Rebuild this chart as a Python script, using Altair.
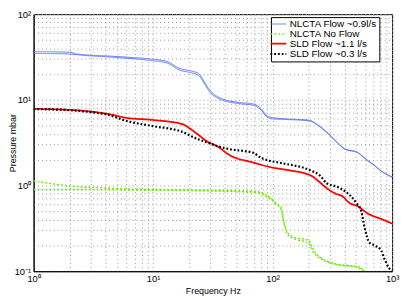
import altair as alt
import pandas as pd

series_names = ["NLCTA Flow ~0.9l/s", "NLCTA No Flow", "SLD Flow ~1.1 l/s", "SLD Flow ~0.3 l/s"]
series_colors = ["#6078ff", "#66ee00", "#ff0000", "#000000"]
series_dash = [[1, 0], [2, 2], [1, 0], [1.8, 2]]
series_widths = [1, 2.2, 3.4, 2]

# NLCTA Flow ~0.9 l/s : two nearly overlapping traces
blue_a_f = [1, 2, 2.3, 5, 9.6, 13, 17, 20, 24, 27, 30, 35, 40, 50, 70, 80, 90, 100, 130, 200, 240, 280, 340, 400, 520, 600, 700, 800, 1000]
blue_a_p = [36.5, 36.0, 34.3, 32.0, 29.9, 28.1, 23.0, 22.0, 20.3, 16.0, 12.8, 10.8, 10.0, 9.4, 8.9, 7.9, 6.5, 6.2, 6.0, 5.8, 5.1, 4.3, 3.3, 2.7, 2.42, 2.05, 1.75, 1.5, 1.26]
blue_b_f = [1, 2, 2.3, 5, 9.6, 13, 17, 20, 24, 27, 30, 35, 40, 50, 70, 80, 90, 100, 130, 200, 240, 280, 340, 400, 520, 600, 700, 800, 1000]
blue_b_p = [34.8, 34.3, 33.6, 31.2, 28.8, 27.0, 22.0, 21.0, 19.3, 15.2, 12.2, 10.4, 9.7, 9.1, 8.6, 7.6, 6.3, 6.0, 5.9, 5.7, 5.0, 4.2, 3.25, 2.67, 2.4, 2.03, 1.74, 1.49, 1.25]

# NLCTA No Flow : two dotted traces
green_a_f = [1, 1.75, 2.5, 3.3, 5, 10, 23, 50, 73, 88, 100, 107, 117, 125, 133, 156, 180, 201, 221, 259, 300, 355, 450, 519, 570, 590]
green_a_p = [1.13, 1.01, 0.96, 0.95, 0.92, 0.9, 0.89, 0.87, 0.85, 0.78, 0.68, 0.625, 0.57, 0.37, 0.284, 0.245, 0.238, 0.228, 0.175, 0.141, 0.128, 0.12, 0.116, 0.113, 0.104, 0.1]
green_b_f = [1, 2.5, 5, 10, 23, 50, 73, 88, 100, 107, 117, 125, 133, 156, 180, 201, 221, 259, 300, 355, 450, 519, 570, 590]
green_b_p = [0.9, 0.9, 0.89, 0.88, 0.87, 0.85, 0.83, 0.75, 0.66, 0.6, 0.54, 0.35, 0.27, 0.235, 0.225, 0.21, 0.165, 0.137, 0.125, 0.118, 0.114, 0.111, 0.102, 0.098]

# SLD Flow ~1.1 l/s
red_f = [1, 2.1, 3, 4.8, 5.8, 10.3, 17.6, 20, 23.4, 28, 34, 44, 68.5, 94, 140, 188, 215, 243, 284, 333, 389, 430, 519, 627, 800, 1000]
red_p = [7.85, 7.6, 7.3, 6.6, 6.2, 5.8, 5.2, 4.7, 4.0, 3.3, 2.9, 2.25, 1.86, 1.65, 1.5, 1.38, 1.28, 1.12, 0.93, 0.81, 0.74, 0.64, 0.57, 0.47, 0.41, 0.36]

# SLD Flow ~0.3 l/s
black_f = [1, 2.1, 3, 4.0, 6.2, 10.3, 17, 23.4, 28, 34, 44, 68.5, 80, 94, 121, 207, 250, 284, 344, 403, 500, 552, 589, 647, 711, 809, 861, 946, 1000]
black_p = [7.8, 7.55, 7.2, 6.8, 5.6, 4.9, 4.3, 3.5, 3.2, 2.9, 2.65, 2.42, 2.1, 1.95, 1.82, 1.5, 1.3, 1.06, 0.97, 0.86, 0.63, 0.5, 0.32, 0.215, 0.2, 0.175, 0.14, 0.108, 0.1]

x_ticks = [m * 10 ** e for e in range(0, 3) for m in range(1, 10)] + [1000]
y_ticks = [round(m * 10.0 ** e, 6) for e in range(-1, 2) for m in range(1, 10)] + [100]

traces = [
    (series_names[0], "blue_a", blue_a_f, blue_a_p),
    (series_names[0], "blue_b", blue_b_f, blue_b_p),
    (series_names[1], "green_a", green_a_f, green_a_p),
    (series_names[1], "green_b", green_b_f, green_b_p),
    (series_names[2], "red", red_f, red_p),
    (series_names[3], "black", black_f, black_p),
]
rows = []
for name, tid, fs, ps in traces:
    for f, p in zip(fs, ps):
        rows.append({"series": name, "trace": tid, "freq": f, "pressure": p})
df = pd.DataFrame(rows)

sup_expr_x = ("datum.value==1?'10\u2070':datum.value==10?'10\u00b9':"
              "datum.value==100?'10\u00b2':datum.value==1000?'10\u00b3':''")
sup_expr_y = ("datum.value==0.1?'10\u207b\u00b9':datum.value==1?'10\u2070':"
              "datum.value==10?'10\u00b9':datum.value==100?'10\u00b2':''")

leg = alt.Legend(
    title=None, orient="none", legendX=241, legendY=3,
    fillColor="white", strokeColor="black", padding=2,
    labelFontSize=10, labelFont="Liberation Sans", labelColor="black",
    symbolType="M-2,0L2,0", symbolSize=64, rowPadding=-1, labelOffset=6,
    labelLimit=200,
)

chart = alt.Chart(df).mark_line(clip=True, interpolate="monotone").encode(
    x=alt.X("freq:Q", scale=alt.Scale(type="log", domain=[1, 1000], nice=False),
            axis=alt.Axis(values=x_ticks, labelExpr=sup_expr_x, title="Frequency Hz",
                          labelFlush=False, labelOverlap=False, ticks=False,
                          labelPadding=2, titleY=16, titleBaseline="top")),
    y=alt.Y("pressure:Q", scale=alt.Scale(type="log", domain=[0.1, 100], nice=False),
            axis=alt.Axis(values=y_ticks, labelExpr=sup_expr_y, title="Pressure mbar",
                          labelFlush=False, labelOverlap=False, ticks=False,
                          labelPadding=3, titleX=-16, titleBaseline="bottom")),
    color=alt.Color("series:N", scale=alt.Scale(domain=series_names, range=series_colors), legend=leg),
    strokeDash=alt.StrokeDash("series:N", scale=alt.Scale(domain=series_names, range=series_dash), legend=leg),
    strokeWidth=alt.StrokeWidth("series:N", scale=alt.Scale(domain=series_names, range=series_widths), legend=leg),
    detail="trace:N",
).properties(
    width=364, height=261,
    autosize=alt.AutoSizeParams(type="none"),
    padding={"left": 26, "top": 4, "right": 9, "bottom": 29},
).configure_axis(
    labelFont="Liberation Sans", titleFont="Liberation Sans",
    labelFontSize=9.5, titleFontSize=9, titleFontWeight="normal",
    labelColor="black", titleColor="black",
    domainColor="black", gridColor="#9a9a9a", gridDash=[1, 3], gridOpacity=1,
).configure_view(stroke="black", strokeWidth=1)

chart.save("out.html", embed_options={"renderer": "svg", "actions": False})
